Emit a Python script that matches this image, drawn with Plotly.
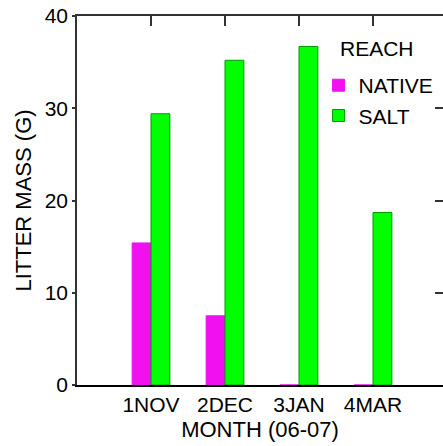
import plotly.graph_objects as go

# Litter mass by month and reach
months = ["1NOV", "2DEC", "3JAN", "4MAR"]
month_pos = [1, 2, 3, 4]
native = [15.4, 7.5, 0.0, 0.0]
salt = [29.4, 35.2, 36.7, 18.7]
y_ticks = [0, 10, 20, 30, 40]

FONT = "Liberation Sans, Arial, sans-serif"
FS = 21       # tick labels and legend
FS_TITLE = 22 # axis titles
AXIS = "#333333"

fig = go.Figure()
fig.add_trace(go.Bar(
    x=month_pos, y=native, name="NATIVE",
    marker=dict(color="#F010F0", line=dict(color="#F010F0", width=1)),
))
fig.add_trace(go.Bar(
    x=month_pos, y=salt, name="SALT",
    marker=dict(color="#00FF00", line=dict(color="#009A00", width=1)),
))
# invisible helper trace to carry the mirrored top/right axes
fig.add_trace(go.Scatter(x=[None], y=[None], xaxis="x2", yaxis="y2",
                         showlegend=False, hoverinfo="skip"))

x_range = [0, 366 / 74]

fig.update_layout(
    width=443, height=446,
    margin=dict(l=77, r=0, t=16, b=61),
    paper_bgcolor="white", plot_bgcolor="white",
    font=dict(family=FONT, size=FS, color="black"),
    barmode="group", bargap=0.49, bargroupgap=0,
    showlegend=True,
    legend=dict(
        x=0.66, y=0.867, xanchor="left", yanchor="top",
        bgcolor="rgba(0,0,0,0)", itemwidth=30,
        font=dict(size=FS), tracegroupgap=0,
    ),
    annotations=[dict(
        text="REACH", xref="paper", yref="paper", x=0.821, y=0.913,
        xanchor="center", yanchor="middle", showarrow=False,
        font=dict(size=FS),
    )],
    xaxis=dict(
        range=x_range, tickvals=month_pos, ticktext=months,
        showline=True, linecolor="black", linewidth=1.5,
        ticks="", showgrid=False, zeroline=False,
        title=dict(text="MONTH (06-07)", standoff=7, font=dict(size=FS_TITLE)),
        tickfont=dict(size=FS),
    ),
    yaxis=dict(
        range=[0, 40], tickvals=y_ticks,
        showline=True, linecolor=AXIS, linewidth=1.5,
        ticks="outside", ticklen=3, tickwidth=1.5, tickcolor=AXIS,
        showgrid=False, zeroline=False,
        title=dict(text="LITTER MASS (G)", standoff=7, font=dict(size=FS_TITLE)),
        tickfont=dict(size=FS),
    ),
    xaxis2=dict(
        overlaying="x", side="top", range=x_range, tickvals=month_pos,
        showticklabels=False, showline=True, linecolor=AXIS, linewidth=1.5,
        ticks="inside", ticklen=10, tickwidth=1.5, tickcolor=AXIS,
        showgrid=False, zeroline=False,
    ),
    yaxis2=dict(
        overlaying="y", side="right", range=[0, 40], tickvals=y_ticks,
        showticklabels=False, showline=False,
        ticks="inside", ticklen=8, tickwidth=1.5, tickcolor=AXIS,
        showgrid=False, zeroline=False,
    ),
)

fig.write_html("out.html")
